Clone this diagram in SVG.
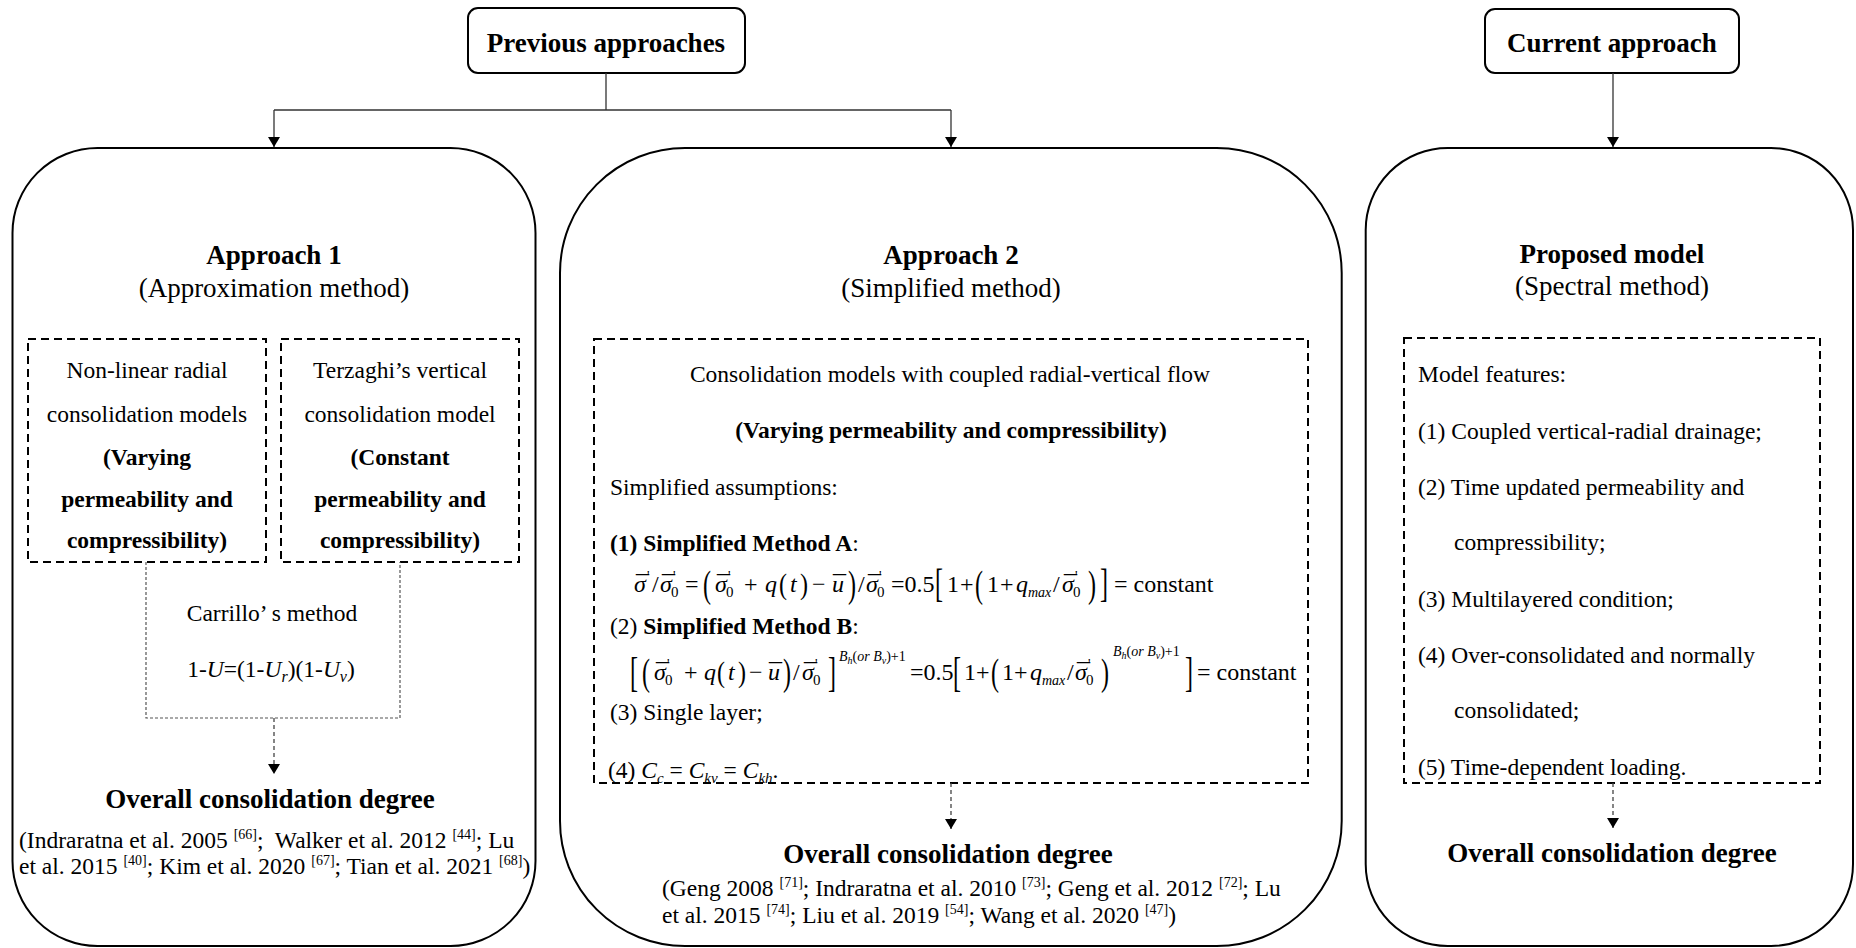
<svg xmlns="http://www.w3.org/2000/svg" width="1856" height="948" viewBox="0 0 1856 948">
<defs>
<style>
text{font-family:"Liberation Serif","Times New Roman",serif;fill:#000}
.b{font-weight:bold}
.i{font-style:italic}
.t27{font-size:27px}
.t23{font-size:23.5px}
.c{text-anchor:middle}
.f{font-size:24px}
.pr{font-size:14px;font-style:normal}
.sb{font-size:15px;font-style:normal}
.mc{font-size:26px;font-style:normal}
.sup{font-size:14px}
.big{fill:#fff;stroke:#000;stroke-width:2}
.top{fill:#fff;stroke:#000;stroke-width:2}
.dash{fill:none;stroke:#000;stroke-width:2;stroke-dasharray:8 5}
.dot{fill:none;stroke:#555;stroke-width:1.2;stroke-dasharray:3 2}
.con{fill:none;stroke:#333;stroke-width:1.3}
.dcon{fill:none;stroke:#444;stroke-width:1.3;stroke-dasharray:4 3}
</style>
<marker id="ah" viewBox="0 0 10 12" refX="10" refY="6" markerWidth="10" markerHeight="12" markerUnits="userSpaceOnUse" orient="auto"><path d="M0,0 L10,6 L0,12 z" fill="#000"/></marker>
</defs>
<rect width="1856" height="948" fill="#fff"/>

<g id="previous">
<rect class="top" x="468" y="8" width="277" height="65" rx="10"/>
<text class="b t27 c" x="606" y="52">Previous approaches</text>
</g>
<g id="current">
<rect class="top" x="1485" y="9" width="254" height="64" rx="10"/>
<text class="b t27 c" x="1612" y="52">Current approach</text>
</g>

<g id="approach1">
<rect class="big" x="12.5" y="148" width="523" height="798" rx="85"/>
<text class="b t27 c" x="274" y="264">Approach 1</text>
<text class="t27 c" x="274" y="297">(Approximation method)</text>
</g>
<g id="nonlinear-radial">
<rect class="dash" x="28" y="339" width="238" height="223"/>
<text class="t23 c" x="147" y="378">Non-linear radial</text>
<text class="t23 c" x="147" y="422">consolidation models</text>
<text class="t23 c b" x="147" y="465">(Varying</text>
<text class="t23 c b" x="147" y="507">permeability and</text>
<text class="t23 c b" x="147" y="548">compressibility)</text>
</g>
<g id="terzaghi">
<rect class="dash" x="281" y="339" width="238" height="223"/>
<text class="t23 c" x="400" y="378">Terzaghi’s vertical</text>
<text class="t23 c" x="400" y="422">consolidation model</text>
<text class="t23 c b" x="400" y="465">(Constant</text>
<text class="t23 c b" x="400" y="507">permeability and</text>
<text class="t23 c b" x="400" y="548">compressibility)</text>
</g>
<g id="carrillo">
<path class="dot" d="M146,562 V718 H400 V562"/>
<text class="t23 c" x="272" y="621">Carrillo’ s method</text>
<text class="t23 c" x="271" y="677">1-<tspan class="i">U</tspan>=(1-<tspan class="i">U</tspan><tspan class="i" font-size="16" dy="5">r</tspan><tspan dy="-5">)(1-</tspan><tspan class="i">U</tspan><tspan class="i" font-size="16" dy="5">v</tspan><tspan dy="-5">)</tspan></text>
</g>
<g id="overall1">
<text class="b t27 c" x="270" y="808">Overall consolidation degree</text>
<text class="t23" x="19" y="848" style="white-space:pre">(Indraratna et al. 2005 <tspan class="sup" dy="-9">[66]</tspan><tspan dy="9">;  Walker et al. 2012 </tspan><tspan class="sup" dy="-9">[44]</tspan><tspan dy="9">; Lu</tspan></text>
<text class="t23" x="19" y="874">et al. 2015 <tspan class="sup" dy="-9">[40]</tspan><tspan dy="9">; Kim et al. 2020 </tspan><tspan class="sup" dy="-9">[67]</tspan><tspan dy="9">; Tian et al. 2021 </tspan><tspan class="sup" dy="-9">[68]</tspan><tspan dy="9">)</tspan></text>
</g>

<g id="approach2">
<rect class="big" x="560" y="148" width="781.7" height="798" rx="125"/>
<text class="b t27 c" x="951" y="264">Approach 2</text>
<text class="t27 c" x="951" y="297">(Simplified method)</text>
</g>
<g id="coupled-models">
<rect class="dash" x="594" y="339" width="714" height="444"/>
<text class="t23 c" x="950" y="382">Consolidation models with coupled radial-vertical flow</text>
<text class="t23 c b" x="951" y="438">(Varying permeability and compressibility)</text>
<text class="t23" x="610" y="495">Simplified assumptions:</text>
<text class="t23" x="610" y="551"><tspan class="b">(1) Simplified Method A</tspan>:</text>
<g id="formulaA">
<text class="f"><tspan class="i" x="634" y="592">σ</tspan><tspan class="mc" x="636" y="593">¯</tspan><tspan class="pr" x="647" y="581">'</tspan><tspan x="652" y="592">/</tspan><tspan class="i" x="660" y="592">σ</tspan><tspan class="mc" x="662" y="593">¯</tspan><tspan class="pr" x="673" y="581">'</tspan><tspan class="sb" x="671" y="597">0</tspan><tspan x="685" y="592">=</tspan><tspan class="i" x="715" y="592">σ</tspan><tspan class="mc" x="717" y="593">¯</tspan><tspan class="pr" x="728" y="581">'</tspan><tspan class="sb" x="726" y="597">0</tspan><tspan x="744" y="592">+</tspan><tspan class="i" x="765" y="592">q</tspan><tspan class="i" x="790" y="592">t</tspan><tspan x="812" y="592">−</tspan><tspan class="i" x="832" y="592">u</tspan><tspan class="mc" x="833" y="593">¯</tspan><tspan x="858" y="592">/</tspan><tspan class="i" x="866" y="592">σ</tspan><tspan class="mc" x="868" y="593">¯</tspan><tspan class="pr" x="879" y="581">'</tspan><tspan class="sb" x="877" y="597">0</tspan><tspan x="891" y="592">=0.5</tspan><tspan x="947" y="592">1</tspan><tspan x="960" y="592">+</tspan><tspan x="987" y="592">1</tspan><tspan x="1000" y="592">+</tspan><tspan class="i" x="1016" y="592">q</tspan><tspan class="i" font-size="14" x="1028" y="597">max</tspan><tspan x="1053" y="592">/</tspan><tspan class="i" x="1062" y="592">σ</tspan><tspan class="mc" x="1064" y="593">¯</tspan><tspan class="pr" x="1075" y="581">'</tspan><tspan class="sb" x="1073" y="597">0</tspan><tspan x="1114" y="592">= constant</tspan></text>
<text class="f" transform="translate(703,597) scale(1,1.55)">(</text>
<text class="f" transform="translate(779,594) scale(1,1.25)">(</text>
<text class="f" transform="translate(800,594) scale(1,1.25)">)</text>
<text class="f" transform="translate(848,597) scale(1,1.55)">)</text>
<text class="f" transform="translate(935,597) scale(1,1.7)">[</text>
<text class="f" transform="translate(975,597) scale(1,1.55)">(</text>
<text class="f" transform="translate(1088,597) scale(1,1.55)">)</text>
<text class="f" transform="translate(1100,597) scale(1,1.7)">]</text>
</g>
<text class="t23" x="610" y="634">(2) <tspan class="b">Simplified Method B</tspan>:</text>
<g id="formulaB">
<text class="f"><tspan class="i" x="654" y="680">σ</tspan><tspan class="mc" x="656" y="681">¯</tspan><tspan class="pr" x="667" y="669">'</tspan><tspan class="sb" x="665" y="685">0</tspan><tspan x="684" y="680">+</tspan><tspan class="i" x="704" y="680">q</tspan><tspan class="i" x="728" y="680">t</tspan><tspan x="749" y="680">−</tspan><tspan class="i" x="768" y="680">u</tspan><tspan class="mc" x="769" y="681">¯</tspan><tspan x="793" y="680">/</tspan><tspan class="i" x="802" y="680">σ</tspan><tspan class="mc" x="804" y="681">¯</tspan><tspan class="pr" x="815" y="669">'</tspan><tspan class="sb" x="813" y="685">0</tspan><tspan x="910" y="680">=0.5</tspan><tspan x="964" y="680">1</tspan><tspan x="976" y="680">+</tspan><tspan x="1002" y="680">1</tspan><tspan x="1014" y="680">+</tspan><tspan class="i" x="1030" y="680">q</tspan><tspan class="i" font-size="14" x="1042" y="685">max</tspan><tspan x="1067" y="680">/</tspan><tspan class="i" x="1075" y="680">σ</tspan><tspan class="mc" x="1077" y="681">¯</tspan><tspan class="pr" x="1088" y="669">'</tspan><tspan class="sb" x="1086" y="685">0</tspan><tspan x="1197" y="680">= constant</tspan></text>
<text class="sup" x="839" y="661"><tspan class="i">B</tspan><tspan class="i" font-size="10" dy="3">h</tspan><tspan dy="-3">(</tspan><tspan class="i">or B</tspan><tspan class="i" font-size="10" dy="3">v</tspan><tspan dy="-3">)+1</tspan></text>
<text class="sup" x="1113" y="656"><tspan class="i">B</tspan><tspan class="i" font-size="10" dy="3">h</tspan><tspan dy="-3">(</tspan><tspan class="i">or B</tspan><tspan class="i" font-size="10" dy="3">v</tspan><tspan dy="-3">)+1</tspan></text>
<text class="f" transform="translate(630,686) scale(1,1.8)">[</text>
<text class="f" transform="translate(642,685) scale(1,1.55)">(</text>
<text class="f" transform="translate(717,682) scale(1,1.25)">(</text>
<text class="f" transform="translate(738,682) scale(1,1.25)">)</text>
<text class="f" transform="translate(783,685) scale(1,1.55)">)</text>
<text class="f" transform="translate(828,686) scale(1,1.8)">]</text>
<text class="f" transform="translate(953,686) scale(1,1.8)">[</text>
<text class="f" transform="translate(991,685) scale(1,1.55)">(</text>
<text class="f" transform="translate(1101,685) scale(1,1.55)">)</text>
<text class="f" transform="translate(1185,686) scale(1,1.8)">]</text>
</g>
<text class="t23" x="610" y="720">(3) Single layer;</text>
<text class="t23" x="608" y="778">(4) <tspan class="i">C</tspan><tspan class="i" font-size="15" dy="5">c</tspan><tspan dy="-5"> = </tspan><tspan class="i">C</tspan><tspan class="i" font-size="15" dy="5">kv</tspan><tspan dy="-5"> = </tspan><tspan class="i">C</tspan><tspan class="i" font-size="15" dy="5">kh</tspan><tspan dy="-5">.</tspan></text>
</g>
<g id="overall2">
<text class="b t27 c" x="948" y="863">Overall consolidation degree</text>
<text class="t23" x="662" y="896">(Geng 2008 <tspan class="sup" dy="-9">[71]</tspan><tspan dy="9">; Indraratna et al. 2010 </tspan><tspan class="sup" dy="-9">[73]</tspan><tspan dy="9">; Geng et al. 2012 </tspan><tspan class="sup" dy="-9">[72]</tspan><tspan dy="9">; Lu</tspan></text>
<text class="t23" x="662" y="923">et al. 2015 <tspan class="sup" dy="-9">[74]</tspan><tspan dy="9">; Liu et al. 2019 </tspan><tspan class="sup" dy="-9">[54]</tspan><tspan dy="9">; Wang et al. 2020 </tspan><tspan class="sup" dy="-9">[47]</tspan><tspan dy="9">)</tspan></text>
</g>

<g id="proposed">
<rect class="big" x="1365.7" y="148" width="487.3" height="798" rx="82"/>
<text class="b t27 c" x="1612" y="263">Proposed model</text>
<text class="t27 c" x="1612" y="295">(Spectral method)</text>
</g>
<g id="features">
<rect class="dash" x="1404" y="338" width="416" height="445"/>
<text class="t23" x="1418" y="382">Model features:</text>
<text class="t23" x="1418" y="439">(1) Coupled vertical-radial drainage;</text>
<text class="t23" x="1418" y="495">(2) Time updated permeability and</text>
<text class="t23" x="1454" y="550">compressibility;</text>
<text class="t23" x="1418" y="607">(3) Multilayered condition;</text>
<text class="t23" x="1418" y="663">(4) Over-consolidated and normally</text>
<text class="t23" x="1454" y="718">consolidated;</text>
<text class="t23" x="1418" y="775">(5) Time-dependent loading.</text>
</g>
<g id="overall3">
<text class="b t27 c" x="1612" y="862">Overall consolidation degree</text>
</g>

<g id="connectors">
<path class="con" d="M606,73 V110 M274,110 H951"/>
<path class="con" d="M274,110 V147" marker-end="url(#ah)"/>
<path class="con" d="M951,110 V147" marker-end="url(#ah)"/>
<path class="con" d="M1613,73 V147" marker-end="url(#ah)"/>
<path class="dcon" d="M274,718 V774" marker-end="url(#ah)"/>
<path class="dcon" d="M951,783 V829" marker-end="url(#ah)"/>
<path class="dcon" d="M1613,783 V828" marker-end="url(#ah)"/>
</g>
</svg>
